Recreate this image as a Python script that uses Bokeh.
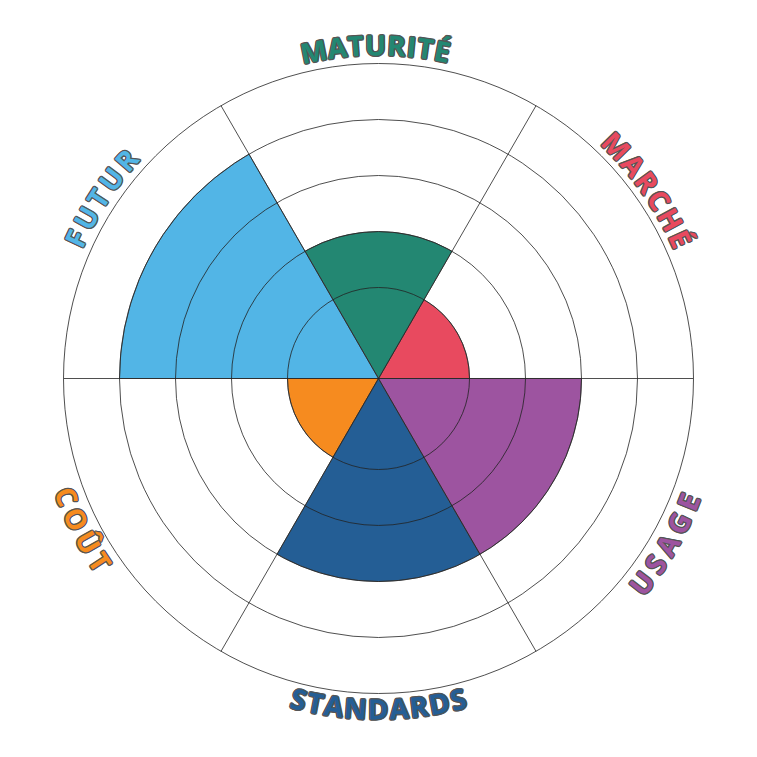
import numpy as np
from bokeh.plotting import figure
from bokeh.models import ColumnDataSource
from bokeh.core.properties import value
from bokeh.embed import file_html
from bokeh.resources import INLINE

# ---- data ----
categories = ["MARCHÉ", "MATURITÉ", "FUTUR", "COÛT", "STANDARDS", "USAGE"]
values = [1, 2, 4, 1, 3, 3]
colors = ["#E84A5F", "#238772", "#52B5E6", "#F68B1F", "#245E95", "#9D54A0"]
ring_levels = [1, 2, 3, 4, 5]

# ---- layout constants ----
PX = 56.0          # pixels per ring step
OFFSET = 0.625     # inner radius offset (ring units)
W = 756
half = W / 2 / PX
label_center_deg = [35, 90.5, 147, 207, 270, 330]
label_span_px = [134, 150, 110, 90, 176, 112]
label_radius_px = [333, 334, 334, 333, 330, 333]
FONT_PX = 28

char_w = {"M": .905, "A": .662, "T": .561, "U": .738, "R": .644, "I": .318,
          "É": .549, "C": .618, "H": .742, "S": .549, "N": .778, "D": .724,
          "G": .725, "F": .534, "O": .781, "Û": .738, "E": .549}

p = figure(width=W, height=W, x_range=(-half, half), y_range=(-half, half),
           output_backend="svg", toolbar_location=None, min_border=0)
p.axis.visible = False
p.grid.visible = False
p.outline_line_color = None
p.background_fill_color = "white"

n = len(categories)
step = 2 * np.pi / n
wsrc = ColumnDataSource(dict(
    x=[0] * n, y=[0] * n,
    r=[OFFSET + v for v in values],
    s=[i * step for i in range(n)],
    e=[(i + 1) * step for i in range(n)],
    c=colors))
p.wedge(x="x", y="y", radius="r", start_angle="s", end_angle="e",
        fill_color="c", line_color="#4a4a4a", line_width=0.8, source=wsrc)

rsrc = ColumnDataSource(dict(x=[0] * len(ring_levels), y=[0] * len(ring_levels),
                             r=[OFFSET + l for l in ring_levels]))
p.circle(x="x", y="y", radius="r", fill_color=None, line_color="#222222",
         line_width=0.8, source=rsrc)

R = OFFSET + ring_levels[-1]
ang = [i * step for i in range(n)]
p.segment(x0=[0] * n, y0=[0] * n, x1=[R * np.cos(a) for a in ang],
          y1=[R * np.sin(a) for a in ang], line_color="#222222", line_width=0.8)

# ---- curved labels ----
cx, cy, ca, cc, ct = [], [], [], [], []
for lab, col, cdeg, span, rpx in zip(categories, colors, label_center_deg,
                                     label_span_px, label_radius_px):
    widths = [char_w.get(ch, 0.6) * FONT_PX for ch in lab]
    track = (span - sum(widths)) / (len(lab) - 1)
    pos = []
    s = 0
    for w in widths:
        pos.append(s + w / 2)
        s += w + track
    th_c = np.radians(cdeg)
    top = np.sin(th_c) > 0
    for ch, sp in zip(lab, pos):
        d = (span / 2 - sp) / rpx
        th = th_c + d if top else th_c - d
        rr = rpx / PX
        cx.append(rr * np.cos(th))
        cy.append(rr * np.sin(th))
        ca.append(th - np.pi / 2 if top else th + np.pi / 2)
        cc.append(col)
        ct.append(ch)

tsrc = ColumnDataSource(dict(x=cx, y=cy, a=ca, c=cc, t=ct))
o = 1.25
offs = [(o, 0), (-o, 0), (0, o), (0, -o), (o * .7, o * .7), (-o * .7, o * .7),
        (o * .7, -o * .7), (-o * .7, -o * .7)]
for dx, dy in offs:
    p.text(x="x", y="y", text="t", angle="a", x_offset=dx, y_offset=dy,
           text_color="#555555", text_font=value("Open Sans"),
           text_font_style="bold", text_font_size=f"{FONT_PX}px",
           text_align="center", text_baseline="middle", source=tsrc)
p.text(x="x", y="y", text="t", angle="a", text_color="c",
       text_font=value("Open Sans"), text_font_style="bold",
       text_font_size=f"{FONT_PX}px", text_align="center",
       text_baseline="middle", source=tsrc)

open("out.html", "w").write(file_html(p, INLINE))
